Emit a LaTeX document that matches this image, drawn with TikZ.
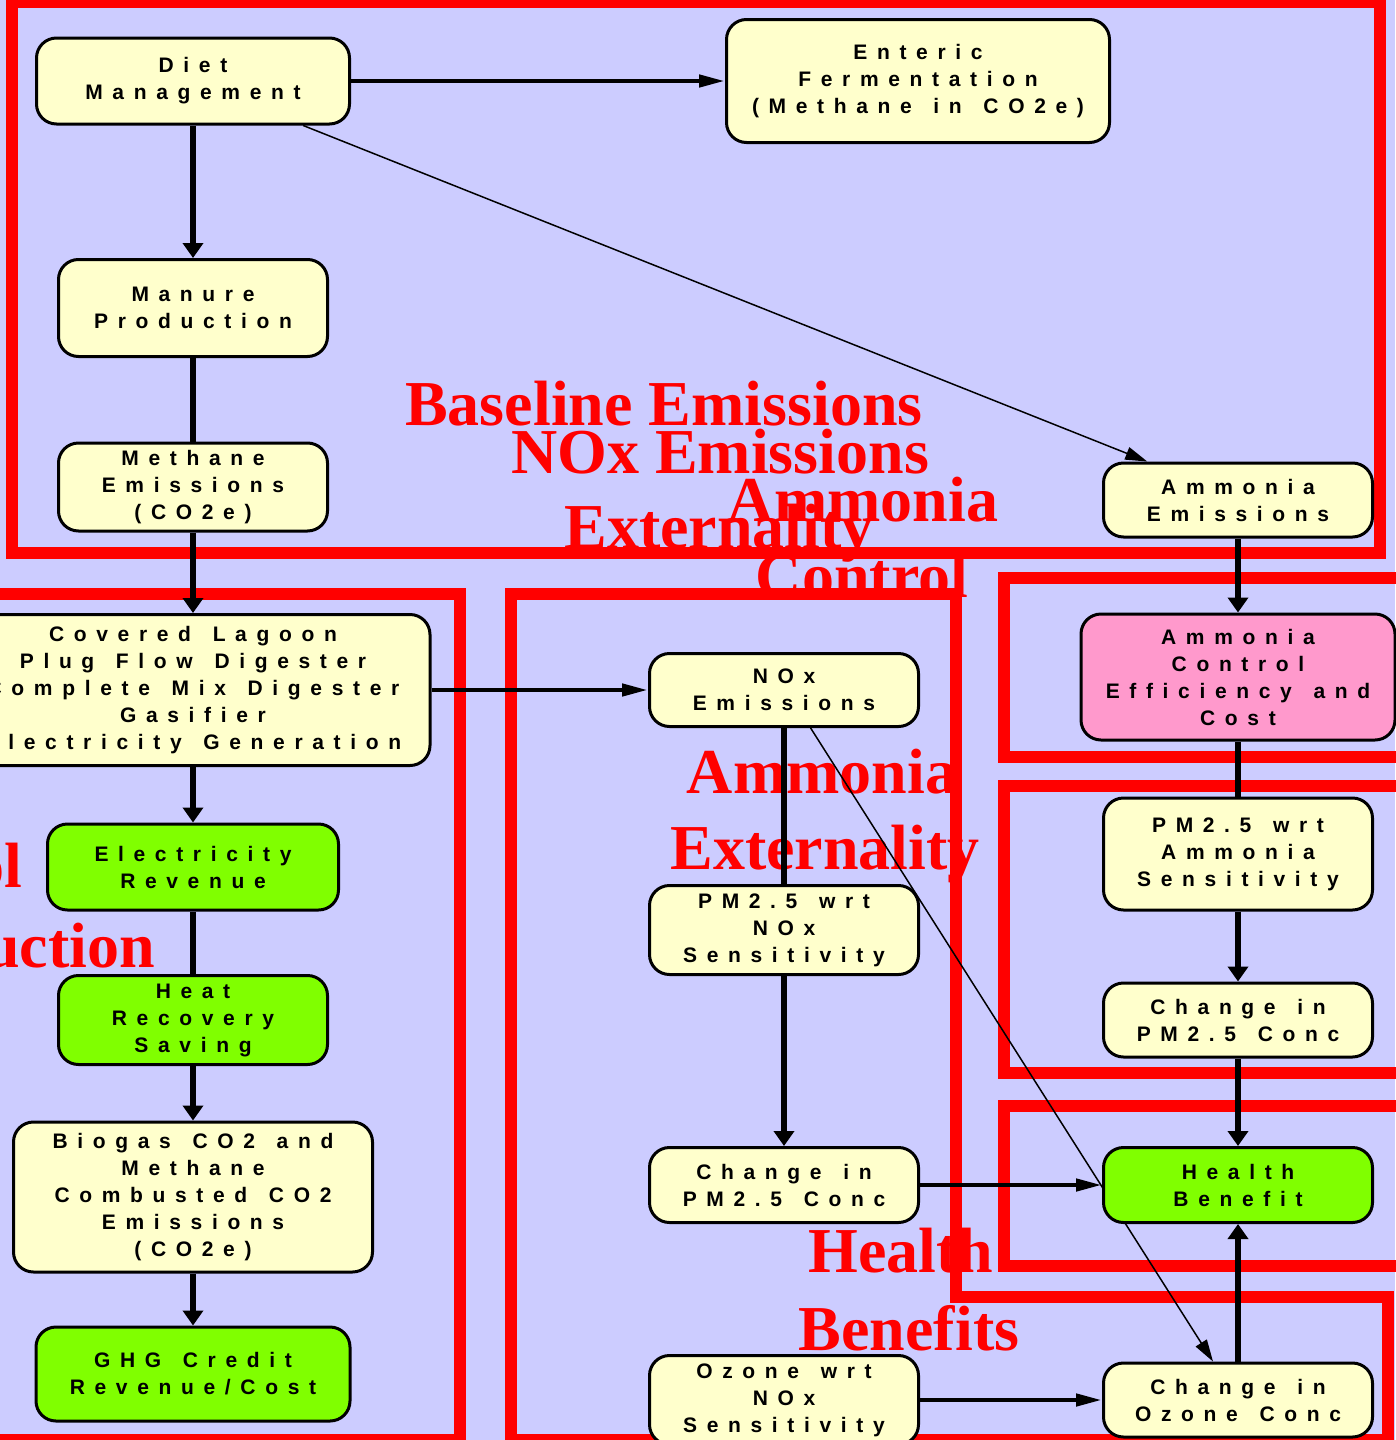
\documentclass[tikz,border=0pt]{standalone}
\usepackage{fontspec}
\usetikzlibrary{arrows.meta}
\newfontfamily\nodefont[LetterSpace=46,WordSpace=1.4]{Liberation Sans}
\newfontfamily\labelfont{Liberation Serif}
\definecolor{bgblue}{RGB}{204,204,255}
\definecolor{nodeyellow}{RGB}{255,255,204}
\definecolor{nodegreen}{RGB}{128,255,0}
\definecolor{nodepink}{RGB}{255,153,204}
\definecolor{framered}{RGB}{255,0,0}
\pgfdeclarelayer{bglayer}
\pgfdeclarelayer{labels}
\pgfdeclarelayer{frames}
\pgfdeclarelayer{edges}
\pgfsetlayers{bglayer,labels,frames,edges,main}
\begin{document}
\begin{tikzpicture}[x=1pt,y=-1pt,
  box/.style={draw=black, line width=3pt, rounded corners=20pt, fill=nodeyellow, align=center,
    inner sep=0pt, text=black, font=\nodefont\bfseries\fontsize{21}{27}\selectfont},
  greenbox/.style={box, fill=nodegreen},
  pinkbox/.style={box, fill=nodepink},
  biglabel/.style={anchor=base, text=framered, inner sep=0pt,
    font=\labelfont\bfseries\fontsize{64}{77}\selectfont},
  frame/.style={draw=framered, line width=12pt},
  vline/.style={draw=black, line width=6.5pt},
  varrow/.style={vline, -{Triangle[length=15pt,width=20pt]}},
  hline/.style={draw=black, line width=4.5pt},
  harrow/.style={hline, -{Triangle[length=26pt,width=12pt]}},
  thinarrow/.style={draw=black, line width=1.5pt, -{Triangle[length=22pt,width=13pt]}}
]
\useasboundingbox (0,0) rectangle (1395,1440);
\begin{pgfonlayer}{bglayer}
  \fill[bgblue] (0,0) rectangle (1395,1440);
\end{pgfonlayer}

% ---- big red labels ----
\begin{pgfonlayer}{labels}
  \node[biglabel] (lbase) at (664,425) {Baseline Emissions};
  \node[biglabel] (lnoxa) at (720,473) {NOx Emissions};
  \node[biglabel] (lnoxb) at (719,548) {Externality};
  \node[biglabel] (lamca) at (863,521) {Ammonia};
  \node[biglabel] (lamcb) at (862,597) {Control};
  \node[biglabel] (lamxa) at (822,793) {Ammonia};
  \node[biglabel] (lamxb) at (825,869) {Externality};
  \node[biglabel] (lhea) at (901,1272) {Health};
  \node[biglabel] (lheb) at (909,1350) {Benefits};
  \node[biglabel, anchor=base east] (lmeta) at (22,887) {Control};
  \node[biglabel, anchor=base east] (lmetb) at (155,967) {Reduction};
\end{pgfonlayer}

% ---- frames ----
\begin{pgfonlayer}{frames}
  \draw[frame] (12,2) rectangle (1380,553);
  \draw[frame] (-20,594) rectangle (460,1440);
  \draw[frame] (511,594) -- (956,594) -- (956,1297) -- (1388,1297) -- (1388,1440) -- (511,1440) -- cycle;
  \draw[frame] (1004,578) rectangle (1420,757);
  \draw[frame] (1004,786) rectangle (1420,1073);
  \draw[frame] (1004,1106) rectangle (1420,1266);
\end{pgfonlayer}

% ---- nodes ----
\node[box, minimum width=313pt, minimum height=86pt] (diet) at (193,81) {Diet\\Management};
\node[box, minimum width=383pt, minimum height=123pt] (enteric) at (918,81) {Enteric\\Fermentation\\(Methane in CO2e)};
\node[box, minimum width=269pt, minimum height=97pt] (manure) at (193,308) {Manure\\Production};
\node[box, minimum width=269pt, minimum height=88pt] (methane) at (193,487) {Methane\\Emissions\\(CO2e)};
\node[box, minimum width=269pt, minimum height=74pt] (amem) at (1238,500) {Ammonia\\Emissions};
\node[box, minimum width=474pt, minimum height=151pt] (lagoon) at (193,690) {Covered Lagoon\\Plug Flow Digester\\Complete Mix Digester\\Gasifier\\Electricity Generation};
\node[greenbox, minimum width=291pt, minimum height=86pt] (elec) at (193,867) {Electricity\\Revenue};
\node[greenbox, minimum width=269pt, minimum height=89pt] (heat) at (193,1020) {Heat\\Recovery\\Saving};
\node[box, minimum width=359pt, minimum height=150pt] (biogas) at (193,1197) {Biogas CO2 and\\Methane\\Combusted CO2\\Emissions\\(CO2e)};
\node[greenbox, minimum width=314pt, minimum height=94pt] (ghg) at (193,1374) {GHG Credit\\Revenue/Cost};
\node[box, minimum width=269pt, minimum height=73pt] (nox) at (784,690) {NOx\\Emissions};
\node[box, minimum width=269pt, minimum height=89pt] (pmnox) at (784,930) {PM2.5 wrt\\NOx\\Sensitivity};
\node[box, minimum width=269pt, minimum height=75pt] (chpmmid) at (784,1185) {Change in\\PM2.5 Conc};
\node[box, minimum width=269pt, minimum height=89pt] (ozsens) at (784,1400) {Ozone wrt\\NOx\\Sensitivity};
\node[pinkbox, minimum width=314pt, minimum height=126pt] (amctl) at (1238,677) {Ammonia\\Control\\Efficiency and\\Cost};
\node[box, minimum width=269pt, minimum height=112pt] (pmam) at (1238,854) {PM2.5 wrt\\Ammonia\\Sensitivity};
\node[box, minimum width=269pt, minimum height=74pt] (chpmright) at (1238,1020) {Change in\\PM2.5 Conc};
\node[greenbox, minimum width=269pt, minimum height=75pt] (health) at (1238,1185) {Health\\Benefit};
\node[box, minimum width=269pt, minimum height=74pt] (chozone) at (1238,1400) {Change in\\Ozone Conc};

% ---- connectors ----
\begin{pgfonlayer}{edges}
  \draw[harrow] (diet) -- (enteric);
  \draw[varrow] (diet) -- (manure);
  \draw[thinarrow] (diet.-22.4) -- (amem.157.8);
  \draw[vline] (manure) -- (methane);
  \draw[varrow] (methane) -- (lagoon);
  \draw[harrow] (lagoon) -- (nox);
  \draw[varrow] (lagoon) -- (elec);
  \draw[vline] (elec) -- (heat);
  \draw[varrow] (heat) -- (biogas);
  \draw[varrow] (biogas) -- (ghg);
  \draw[vline] (nox) -- (pmnox);
  \draw[varrow] (pmnox) -- (chpmmid);
  \draw[thinarrow] (nox.-55) -- (chozone.123);
  \draw[harrow] (chpmmid) -- (health);
  \draw[harrow] (ozsens) -- (chozone);
  \draw[varrow] (amem) -- (amctl);
  \draw[vline] (amctl) -- (pmam);
  \draw[varrow] (pmam) -- (chpmright);
  \draw[varrow] (chpmright) -- (health);
  \draw[varrow] (chozone) -- (health);
\end{pgfonlayer}
\end{tikzpicture}
\end{document}
